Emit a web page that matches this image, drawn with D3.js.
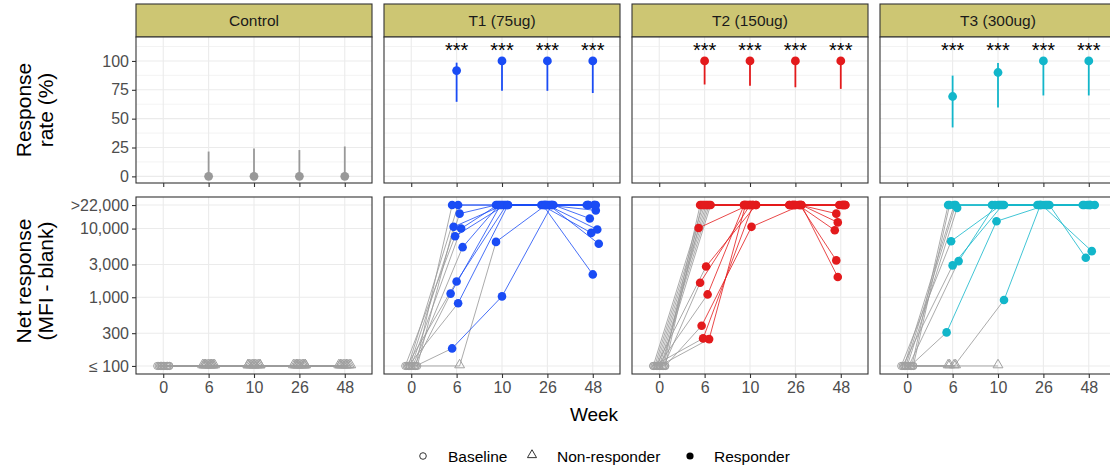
<!DOCTYPE html>
<html><head><meta charset="utf-8">
<script src="https://cdn.jsdelivr.net/npm/d3@7"></script>
<style>
body{margin:0;background:#fff;}
text{font-family:"Liberation Sans",Arial,sans-serif;}
</style>
</head><body>
<svg id="c" width="1110" height="472"></svg>
<script>
// ---------------- data ----------------
const weeks = [0, 6, 10, 26, 48];
const groups = ["Control", "T1 (75ug)", "T2 (150ug)", "T3 (300ug)"];

// response rate (%) with 95% CI, by week 6/10/26/48
const rateWeeks = [6, 10, 26, 48];
const rateControl = [0, 0, 0, 0];
const loControl   = [0, 0, 0, 0];
const hiControl   = [21.5, 24.2, 22.8, 25.9];
const rateT1 = [91.7, 100, 100, 100];
const loT1   = [64.6, 74.1, 74.1, 72.2];
const hiT1   = [98.5, 100, 100, 100];
const rateT2 = [100, 100, 100, 100];
const loT2   = [79.6, 78.5, 77.2, 75.8];
const hiT2   = [100, 100, 100, 100];
const rateT3 = [69.2, 90, 100, 100];
const loT3   = [42.4, 59.6, 70.1, 70.1];
const hiT3   = [87.3, 98.2, 100, 100];
const sigControl = ["", "", "", ""];
const sigT1 = ["***", "***", "***", "***"];
const sigT2 = ["***", "***", "***", "***"];
const sigT3 = ["***", "***", "***", "***"];

// net response per subject at weeks 0/6/10/26/48 (100 = "<= 100", 22000 = ">22,000")
const subjControl = [
  [100,100,100,100,100],[100,100,100,100,100],[100,100,100,100,100],[100,100,100,100,100],
  [100,100,100,100,100],[100,100,100,100,100],[100,100,100,100,100],[100,100,100,100,100],
  [100,100,100,100,100],[100,100,100,100,100],[100,100,100,100,100],
  [100,100,100,100,null],[100,100,null,100,null],[100,100,null,null,null]
];
const subjT1 = [
  [100,22000,22000,22000,22000],
  [100,22000,22000,22000,22000],
  [100,16500,22000,22000,18400],
  [100,10600,22000,22000,14000],
  [100,10000,22000,22000,9700],
  [100,7740,22000,22000,8650],
  [100,5360,22000,22000,6000],
  [100,1700,22000,22000,2150],
  [100,1130,22000,22000,22000],
  [100,820,22000,22000,22000],
  [100,180,1030,22000,22000],
  [100,100,6400,22000,22000]
];
const subjT2 = [
  [100,22000,22000,22000,22000],
  [100,22000,22000,22000,16500],
  [100,22000,22000,22000,22000],
  [100,22000,22000,22000,12300],
  [100,22000,22000,22000,22000],
  [100,22000,22000,22000,22000],
  [100,22000,22000,null,null],
  [100,22000,null,null,null],
  [100,10200,22000,22000,9450],
  [100,2810,22000,22000,22000],
  [100,1630,22000,22000,3440],
  [100,1100,22000,22000,22000],
  [100,384,10600,22000,1970],
  [100,246,22000,22000,22000],
  [100,252,22000,22000,null]
];
const subjT3 = [
  [100,22000,22000,22000,22000],
  [100,22000,22000,22000,22000],
  [100,22000,22000,22000,4690],
  [100,22000,22000,22000,3760],
  [100,20000,null,null,null],
  [100,6550,22000,22000,22000],
  [100,3360,22000,22000,22000],
  [100,2910,22000,22000,22000],
  [100,308,12760,22000,22000],
  [100,100,910,22000,22000],
  [100,100,100,null,null],
  [100,100,null,null,null],
  [100,100,null,null,null]
];
const netTicks = [100, 300, 1000, 3000, 10000, 22000];
const netTickLabels = ["\u2264 100", "300", "1,000", "3,000", "10,000", ">22,000"];
const rateTicks = [0, 25, 50, 75, 100];
const legendLabels = ["Baseline", "Non-responder", "Responder"];

// ---------------- layout / style ----------------
const groupColors = ["#999999", "#1A4CF5", "#E31A1C", "#12B6CA"];
const greyLine = "#9C9C9C";
const panelX = [136, 384, 632, 880];
const panelW = 236;
const stripY0 = 4, stripY1 = 37;
const topY0 = 37, topY1 = 183;
const botY0 = 197, botY1 = 374;
const gridCol = "#EBEBEB", borderCol = "#333333", tickTextCol = "#4D4D4D";
const tickFont = 16;

const rates = [
  {rate: rateControl, lo: loControl, hi: hiControl, sig: sigControl},
  {rate: rateT1, lo: loT1, hi: hiT1, sig: sigT1},
  {rate: rateT2, lo: loT2, hi: hiT2, sig: sigT2},
  {rate: rateT3, lo: loT3, hi: hiT3, sig: sigT3}
];
const subjects = [subjControl, subjT1, subjT2, subjT3];

const svg = d3.select("#c");
svg.append("rect").attr("width", 1110).attr("height", 472).attr("fill", "#fff");

const yTop = d3.scaleLinear().domain([-5.75, 120.75]).range([topY1, topY0]);
const lg = Math.log10;
const span = lg(22000) - lg(100);
const yBot = d3.scaleLog()
  .domain([Math.pow(10, lg(100) - 0.05 * span), Math.pow(10, lg(22000) + 0.05 * span)])
  .range([botY1, botY0]);

function jit(i, w) { return (((i * 5 + w * 3 + 2) % 9) - 4) * 1.5; }

groups.forEach((gName, gi) => {
  const x0 = panelX[gi];
  const x = d3.scalePoint().domain(weeks).range([x0, x0 + panelW]).padding(0.6);
  const col = groupColors[gi];
  const g = svg.append("g");

  // strip
  g.append("rect").attr("x", x0).attr("y", stripY0).attr("width", panelW).attr("height", stripY1 - stripY0)
    .attr("fill", "#CDC673").attr("stroke", borderCol).attr("stroke-width", 1.1);
  g.append("text").attr("x", x0 + panelW / 2).attr("y", (stripY0 + stripY1) / 2).attr("dy", "0.36em")
    .attr("text-anchor", "middle").attr("font-size", 15.5).attr("fill", "#1A1A1A").text(gName);

  // ---- top panel ----
  g.append("rect").attr("x", x0).attr("y", topY0).attr("width", panelW).attr("height", topY1 - topY0).attr("fill", "#fff");
  const minorTop = d3.range(-12.5, 125, 25).filter(v => v > -5.75 && v < 120.75);
  g.selectAll(null).data(minorTop).enter().append("line")
    .attr("x1", x0).attr("x2", x0 + panelW).attr("y1", d => yTop(d)).attr("y2", d => yTop(d))
    .attr("stroke", gridCol).attr("stroke-width", 0.6);
  g.selectAll(null).data(rateTicks).enter().append("line")
    .attr("x1", x0).attr("x2", x0 + panelW).attr("y1", d => yTop(d)).attr("y2", d => yTop(d))
    .attr("stroke", gridCol).attr("stroke-width", 1.1);
  g.selectAll(null).data(weeks).enter().append("line")
    .attr("x1", d => x(d)).attr("x2", d => x(d)).attr("y1", topY0).attr("y2", topY1)
    .attr("stroke", gridCol).attr("stroke-width", 1.1);

  const R = rates[gi];
  rateWeeks.forEach((w, k) => {
    g.append("line").attr("x1", x(w)).attr("x2", x(w)).attr("y1", yTop(R.lo[k])).attr("y2", yTop(R.hi[k]))
      .attr("stroke", col).attr("stroke-width", 1.8);
    g.append("circle").attr("cx", x(w)).attr("cy", yTop(R.rate[k])).attr("r", 4.4).attr("fill", col);
    if (R.sig[k]) {
      g.append("text").attr("x", x(w)).attr("y", yTop(113.5)).attr("dy", "0.58em").attr("text-anchor", "middle")
        .attr("font-size", 20).attr("fill", "#000").text(R.sig[k]);
    }
  });
  g.append("rect").attr("x", x0).attr("y", topY0).attr("width", panelW).attr("height", topY1 - topY0)
    .attr("fill", "none").attr("stroke", borderCol).attr("stroke-width", 1.1);
  const axTopX = g.append("g").attr("transform", `translate(0,${topY1})`)
    .call(d3.axisBottom(x).tickSize(4).tickFormat(""));
  axTopX.select(".domain").remove();
  axTopX.selectAll("line").attr("stroke", borderCol).attr("stroke-width", 1.1);

  // ---- bottom panel ----
  g.append("rect").attr("x", x0).attr("y", botY0).attr("width", panelW).attr("height", botY1 - botY0).attr("fill", "#fff");
  g.selectAll(null).data(netTicks).enter().append("line")
    .attr("x1", x0).attr("x2", x0 + panelW).attr("y1", d => yBot(d)).attr("y2", d => yBot(d))
    .attr("stroke", gridCol).attr("stroke-width", 1.1);
  g.selectAll(null).data(weeks).enter().append("line")
    .attr("x1", d => x(d)).attr("x2", d => x(d)).attr("y1", botY0).attr("y2", botY1)
    .attr("stroke", gridCol).attr("stroke-width", 1.1);

  const subs = subjects[gi];
  const pts = [];
  const grey = [], colored = [];
  subs.forEach((row, i) => {
    const p = [];
    row.forEach((v, wi) => {
      if (v === null) return;
      const status = wi === 0 ? "base" : (v <= 100 ? "nr" : "resp");
      const pt = {x: x(weeks[wi]) + jit(i, wi), y: yBot(v), status};
      p.push(pt); pts.push(pt);
    });
    for (let k = 0; k < p.length - 1; k++) {
      const seg = [p[k], p[k + 1]];
      (p[k].status === "resp" ? colored : grey).push(seg);
    }
  });
  g.selectAll(null).data(grey).enter().append("line")
    .attr("x1", d => d[0].x).attr("y1", d => d[0].y).attr("x2", d => d[1].x).attr("y2", d => d[1].y)
    .attr("stroke", greyLine).attr("stroke-width", 1).attr("stroke-opacity", 0.85);
  g.selectAll(null).data(colored).enter().append("line")
    .attr("x1", d => d[0].x).attr("y1", d => d[0].y).attr("x2", d => d[1].x).attr("y2", d => d[1].y)
    .attr("stroke", col).attr("stroke-width", 1).attr("stroke-opacity", 0.8);
  g.selectAll(null).data(pts.filter(p => p.status === "base")).enter().append("circle")
    .attr("cx", d => d.x).attr("cy", d => d.y).attr("r", 3.6)
    .attr("fill", "none").attr("stroke", "#A0A0A0").attr("stroke-width", 1);
  const tri = d3.symbol().type(d3.symbolTriangle).size(42);
  g.selectAll(null).data(pts.filter(p => p.status === "nr")).enter().append("path")
    .attr("d", tri).attr("transform", d => `translate(${d.x},${d.y - 1})`)
    .attr("fill", "none").attr("stroke", "#A0A0A0").attr("stroke-width", 1);
  g.selectAll(null).data(pts.filter(p => p.status === "resp")).enter().append("circle")
    .attr("cx", d => d.x).attr("cy", d => d.y).attr("r", 4.3).attr("fill", col);

  g.append("rect").attr("x", x0).attr("y", botY0).attr("width", panelW).attr("height", botY1 - botY0)
    .attr("fill", "none").attr("stroke", borderCol).attr("stroke-width", 1.1);
  const axBotX = g.append("g").attr("transform", `translate(0,${botY1})`)
    .call(d3.axisBottom(x).tickSize(4).tickPadding(4));
  axBotX.select(".domain").remove();
  axBotX.selectAll("line").attr("stroke", borderCol).attr("stroke-width", 1.1);
  axBotX.selectAll("text").attr("font-size", tickFont).attr("fill", tickTextCol).attr("font-family", "Liberation Sans, Arial, sans-serif");

  if (gi === 0) {
    const axY1 = g.append("g").attr("transform", `translate(${x0},0)`)
      .call(d3.axisLeft(yTop).tickValues(rateTicks).tickSize(4).tickPadding(3));
    axY1.select(".domain").remove();
    axY1.selectAll("line").attr("stroke", borderCol).attr("stroke-width", 1.1);
    axY1.selectAll("text").attr("font-size", tickFont).attr("fill", tickTextCol).attr("font-family", "Liberation Sans, Arial, sans-serif");
    const axY2 = g.append("g").attr("transform", `translate(${x0},0)`)
      .call(d3.axisLeft(yBot).tickValues(netTicks).tickFormat((d, i) => netTickLabels[i]).tickSize(4).tickPadding(3));
    axY2.select(".domain").remove();
    axY2.selectAll("line").attr("stroke", borderCol).attr("stroke-width", 1.1);
    axY2.selectAll("text").attr("font-size", tickFont).attr("fill", tickTextCol).attr("font-family", "Liberation Sans, Arial, sans-serif");
  }
});

// axis titles
function vtitle(lines, cx, cy) {
  const t = svg.append("text").attr("transform", `translate(${cx},${cy}) rotate(-90)`)
    .attr("text-anchor", "middle").attr("font-size", 21).attr("fill", "#000");
  lines.forEach((l, i) => t.append("tspan").attr("x", 0).attr("dy", i === 0 ? 0 : 22).text(l));
}
vtitle(["Response", "rate (%)"], 31, 110);
vtitle(["Net response", "(MFI - blank)"], 31, 281);
svg.append("text").attr("x", 594).attr("y", 421).attr("text-anchor", "middle")
  .attr("font-size", 19).attr("fill", "#000").text("Week");

// legend
const lg0 = svg.append("g");
lg0.append("circle").attr("cx", 423).attr("cy", 456).attr("r", 3.3).attr("fill", "none").attr("stroke", "#333").attr("stroke-width", 1);
lg0.append("path").attr("d", d3.symbol().type(d3.symbolTriangle).size(36)).attr("transform", "translate(532,455)")
  .attr("fill", "none").attr("stroke", "#333").attr("stroke-width", 1);
lg0.append("circle").attr("cx", 690).attr("cy", 456).attr("r", 3.6).attr("fill", "#000");
const legX = [448, 557, 714];
legendLabels.forEach((l, i) => {
  lg0.append("text").attr("x", legX[i]).attr("y", 462).attr("font-size", 15.5).attr("fill", "#000").text(l);
});
</script>
</body></html>
